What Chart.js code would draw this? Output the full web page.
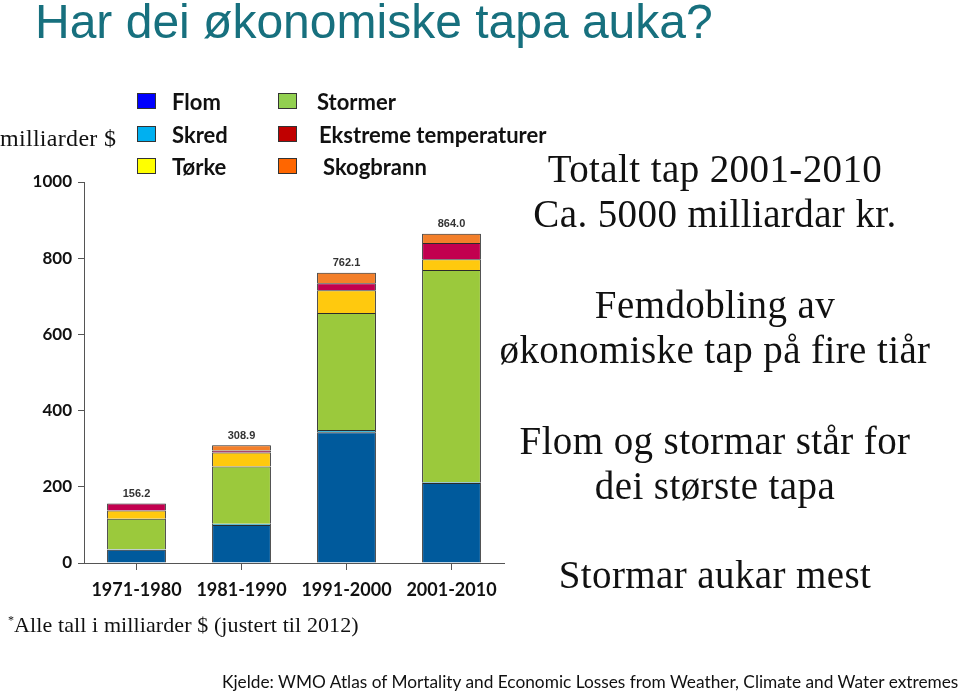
<!DOCTYPE html>
<html>
<head>
<meta charset="utf-8">
<script src="https://cdn.jsdelivr.net/npm/chart.js@4"></script>
<style>
  html, body { margin: 0; padding: 0; background: #fff; }
  #wrap { position: relative; width: 960px; height: 693px; overflow: hidden; }
  #chartBox { position: absolute; left: 0; top: 0; width: 960px; height: 693px; }
  .txt { position: absolute; white-space: nowrap; }
  .title { left: 35px; top: -6px; font-family: "Liberation Sans", Arial, sans-serif; font-size: 48px; color: #17707e; }
  .serif { font-family: "Liberation Serif", serif; color: #111; }
  .right { left: 497px; width: 436px; text-align: center; font-size: 39px; line-height: 45px; letter-spacing: 0.4px; }
  .leg { font-family: Lato, "Open Sans", sans-serif; font-weight: bold; font-size: 22px; color: #111; }
  .sq { position: absolute; width: 17px; height: 14px; border: 1px solid #333; }
</style>
</head>
<body>
<div id="wrap">
  <div id="chartBox"><canvas id="lossChart"></canvas></div>

  <div class="txt title">Har dei økonomiske tapa auka?</div>
  <div class="txt serif" style="left:0; top:125px; font-size:24px; letter-spacing:0.3px;">milliarder $</div>

  <div id="legend"></div>

  <div class="txt serif right" style="top:146px;">Totalt tap 2001-2010<br>Ca. 5000 milliardar kr.</div>
  <div class="txt serif right" style="top:282px;">Femdobling av<br>økonomiske tap på fire tiår</div>
  <div class="txt serif right" style="top:418px;">Flom og stormar står for<br>dei største tapa</div>
  <div class="txt serif right" style="top:552px;">Stormar aukar mest</div>

  <div class="txt serif" style="left:8px; top:612px; font-size:22px; letter-spacing:0.1px;"><sup style="font-size:12px;">*</sup>Alle tall i milliarder $ (justert til 2012)</div>
  <div class="txt" style="left:222px; top:671px; font-family: Lato, sans-serif; font-size:17.3px; color:#111;">Kjelde: WMO Atlas of Mortality and Economic Losses from Weather, Climate and Water extremes</div>
</div>

<script>
// decades and losses per hazard type (billion US$, 2012 value)
const categories = ['1971-1980', '1981-1990', '1991-2000', '2001-2010'];
const flom = [35, 100, 343, 210];
const skred = [1, 3, 6, 2];
const stormer = [80, 150, 307, 557];
const torke = [22, 37, 60, 28];
const ekstreme = [18, 5, 18, 43];
const skogbrann = [0, 14, 28, 24];
const totals = ['156.2', '308.9', '762.1', '864.0'];
const yTicks = [0, 200, 400, 600, 800, 1000];

// legend entries (legend swatches use brighter colours than the bars)
const legendItems = [
  { label: 'Flom', color: '#0000ff', x: 137, y: 93, tx: 172 },
  { label: 'Skred', color: '#00b0f0', x: 137, y: 126, tx: 172 },
  { label: 'Tørke', color: '#ffff00', x: 137, y: 158, tx: 172 },
  { label: 'Stormer', color: '#92d050', x: 278, y: 93, tx: 317 },
  { label: 'Ekstreme temperaturer', color: '#c00000', x: 278, y: 126, tx: 319 },
  { label: 'Skogbrann', color: '#ff6600', x: 278, y: 158, tx: 323 },
];

const legendEl = document.getElementById('legend');
legendItems.forEach(item => {
  const sq = document.createElement('div');
  sq.className = 'sq';
  sq.style.left = item.x + 'px';
  sq.style.top = item.y + 'px';
  sq.style.background = item.color;
  legendEl.appendChild(sq);
  const t = document.createElement('div');
  t.className = 'txt leg';
  t.style.left = item.tx + 'px';
  t.style.top = (item.y - 5) + 'px';
  t.textContent = item.label;
  legendEl.appendChild(t);
});

// total value above each stack
const totalLabels = {
  id: 'totalLabels',
  afterDatasetsDraw(chart) {
    const { ctx, scales } = chart;
    ctx.save();
    ctx.font = 'bold 11px "Liberation Sans", Arial, sans-serif';
    ctx.fillStyle = '#333';
    ctx.textAlign = 'center';
    ctx.textBaseline = 'bottom';
    categories.forEach((c, i) => {
      const sum = chart.data.datasets.reduce((s, ds) => s + ds.data[i], 0);
      const x = scales.x.getPixelForValue(i);
      const y = scales.y.getPixelForValue(sum);
      ctx.fillText(totals[i], x, y - 4);
    });
    ctx.restore();
  }
};

const barStyle = { borderColor: '#2b2b2b', borderWidth: 1, barPercentage: 0.56, categoryPercentage: 1 };

new Chart(document.getElementById('lossChart'), {
  type: 'bar',
  data: {
    labels: categories,
    datasets: [
      { label: 'Flom', data: flom, backgroundColor: '#005a9c', ...barStyle },
      { label: 'Skred', data: skred, backgroundColor: '#3fb6d8', ...barStyle },
      { label: 'Stormer', data: stormer, backgroundColor: '#9bc93c', ...barStyle },
      { label: 'Tørke', data: torke, backgroundColor: '#ffc90e', ...barStyle },
      { label: 'Ekstreme temperaturer', data: ekstreme, backgroundColor: '#c2004f', ...barStyle },
      { label: 'Skogbrann', data: skogbrann, backgroundColor: '#f37f2a', ...barStyle },
    ],
  },
  options: {
    responsive: true,
    maintainAspectRatio: false,
    animation: false,
    layout: { padding: { left: 0, top: 182, right: 456, bottom: 80 } },
    plugins: {
      legend: { display: false },
      tooltip: { enabled: false },
    },
    scales: {
      x: {
        stacked: true,
        afterFit(scale) { scale.height = 50; },
        grid: { drawOnChartArea: false, offset: false, tickLength: 7, color: '#555' },
        border: { color: '#555', width: 1 },
        ticks: { color: '#111', padding: 9, font: { family: 'Lato', weight: 'bold', size: 18 } },
      },
      y: {
        stacked: true,
        min: 0,
        max: 1000,
        afterFit(scale) { scale.width = 84; },
        afterBuildTicks(scale) { scale.ticks = yTicks.map(v => ({ value: v })); },
        grid: { drawOnChartArea: false, tickLength: 6, color: '#555' },
        border: { color: '#555', width: 1 },
        ticks: {
          color: '#111', padding: 6,
          font: { family: 'Lato', weight: 'bold', size: 17 },
          callback: v => String(v),
        },
      },
    },
  },
  plugins: [totalLabels],
});
</script>
</body>
</html>
